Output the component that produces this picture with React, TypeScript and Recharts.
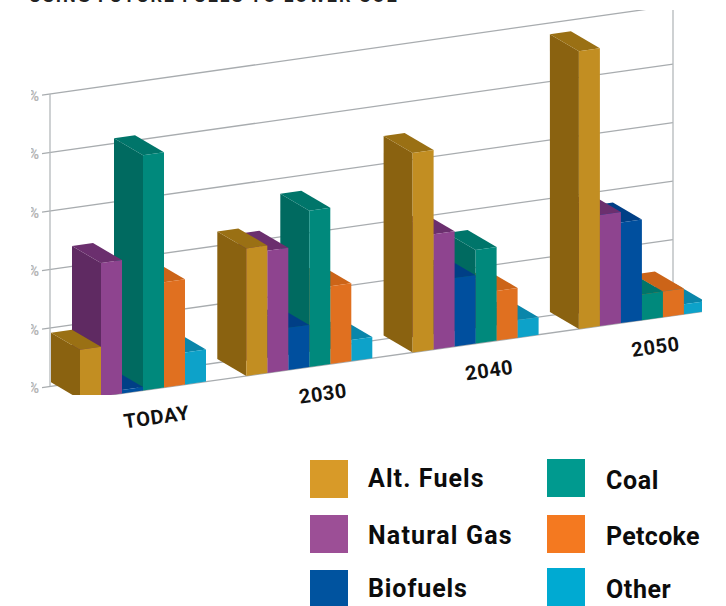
import { Bar, BarChart, CartesianGrid, XAxis, YAxis } from 'recharts'

const categories = ['TODAY', '2030', '2040', '2050']
const altFuels = [8.5, 21.8, 34.1, 47.5]
const naturalGas = [22.8, 20.9, 19.7, 19]
const biofuels = [0.6, 7.2, 11.7, 17.2]
const coal = [40.2, 26.7, 16, 4.4]
const petcoke = [18, 13.3, 8.5, 4.4]
const other = [5.5, 3.6, 3, 1.7]
const yTicks = [0, 10, 20, 30, 40, 50]

const rows = categories.map((name, i) => ({
  name,
  altFuels: altFuels[i],
  naturalGas: naturalGas[i],
  biofuels: biofuels[i],
  coal: coal[i],
  petcoke: petcoke[i],
  other: other[i],
}))

// front / side / top colours, left to right within a group
const series = [
  { key: 'altFuels', label: 'Alt. Fuels', swatch: '#d89a28', front: '#c28e22', side: '#8a6210', top: '#9a7014' },
  { key: 'naturalGas', label: 'Natural Gas', swatch: '#9c4f96', front: '#8e448f', side: '#5f2a62', top: '#6b2f6e' },
  { key: 'biofuels', label: 'Biofuels', swatch: '#00539f', front: '#004f9e', side: '#004490', top: '#003f86' },
  { key: 'coal', label: 'Coal', swatch: '#009a8f', front: '#00897c', side: '#006a60', top: '#00756a' },
  { key: 'petcoke', label: 'Petcoke', swatch: '#f47920', front: '#e07020', side: '#c45f18', top: '#cc6418' },
  { key: 'other', label: 'Other', swatch: '#00aad2', front: '#0da2c9', side: '#0a7fa2', top: '#0a86aa' },
]

const SLOPE = 0.141
const DEPTH_X = 29
const DEPTH_Y = 17
const WALL_LEFT = 50
const WALL_RIGHT = 673
const shear = (x: number, y: number) => y - SLOPE * (x - 79)
const wallY = (x: number, y: number) => y - 0.142 * (x - WALL_LEFT) - 13

const pts = (list: number[][]) => list.map((p) => p.join(',')).join(' ')

// bars are painted right to left so the nearer ones cover the sides behind them
const makeBar = (s: (typeof series)[number], index: number) => (props: any) => {
  const w = props.width
  const x = props.x + (index - (series.length - 1 - index)) * w
  const top = props.y
  const bottom = props.y + props.height
  const fl = [x, shear(x, top)]
  const fr = [x + w, shear(x + w, top)]
  const flb = [x, shear(x, bottom)]
  const frb = [x + w, shear(x + w, bottom)]
  const back = (p: number[]) => [p[0] - DEPTH_X, p[1] - DEPTH_Y]
  return (
    <g clipPath='url(#frame)'>
      <polygon points={pts([back(fl), fl, flb, back(flb)])} fill={s.side} />
      <polygon points={pts([back(fl), back(fr), fr, fl])} fill={s.top} />
      <polygon points={pts([fl, fr, frb, flb])} fill={s.front} />
    </g>
  )
}

function GridLine(props: any) {
  const { y1 } = props
  return (
    <line
      key={`grid-${y1}`}
      x1={42}
      y1={wallY(42, y1)}
      x2={WALL_RIGHT}
      y2={wallY(WALL_RIGHT, y1)}
      stroke='#a8acaf'
      strokeWidth={1.3}
      clipPath='url(#frame)'
    />
  )
}

function YTick({ y, payload }: any) {
  return (
    <text
      x={39}
      y={wallY(39, y) + 5}
      textAnchor='end'
      fontSize={14}
      fontWeight={700}
      fontFamily='Roboto'
      fill='#b5b5b5'
      clipPath='url(#frame)'
    >
      {payload.value}%
    </text>
  )
}

function XTick({ x, y, payload }: any) {
  const cx = x + 16
  const cy = shear(cx, y) + 27.5
  return (
    <text
      x={cx}
      y={cy}
      textAnchor='middle'
      fontSize={20}
      fontWeight={700}
      letterSpacing={0.6}
      fontFamily='Roboto'
      fill='#111'
      transform={`rotate(-8 ${cx} ${cy})`}
    >
      {payload.value}
    </text>
  )
}

const legendPlace = [
  { left: 310, top: 460, textTop: 3, spacing: 1.1 },
  { left: 310, top: 515, textTop: 5, spacing: 1.2 },
  { left: 310, top: 570, textTop: 3, spacing: 0.9 },
  { left: 547, top: 459, textTop: 6, spacing: 0.6 },
  { left: 547, top: 515, textTop: 6, spacing: 0.3 },
  { left: 547, top: 568, textTop: 6, spacing: 0.6 },
]

export default function App() {
  return (
    <div style={{ position: 'absolute', left: 0, top: 0, width: 726, height: 606, overflow: 'hidden', background: '#fff' }}>
      <svg width={0} height={0} style={{ position: 'absolute' }}>
        <defs>
          <clipPath id='frame'>
            <rect x={31} y={10} width={671} height={385} />
          </clipPath>
        </defs>
      </svg>
      <div
        style={{
          position: 'absolute',
          left: 29,
          top: -15,
          fontFamily: 'Roboto',
          fontWeight: 700,
          fontSize: 18,
          lineHeight: '21px',
          letterSpacing: 1.9,
          whiteSpace: 'nowrap',
          color: '#222',
        }}
      >
        USING FUTURE FUELS TO LOWER CO2
      </div>
      <BarChart
        width={726}
        height={606}
        data={rows}
        margin={{ top: 107, right: 2.4, bottom: 176.5, left: 38.4 }}
        barCategoryGap={21.6}
        barGap={0}
      >
        <CartesianGrid horizontal={GridLine} vertical={false} />
        <line x1={WALL_LEFT} y1={94} x2={WALL_LEFT} y2={386} stroke='#b4b8bb' strokeWidth={1.3} />
        <line x1={WALL_RIGHT} y1={10} x2={WALL_RIGHT} y2={298} stroke='#b4b8bb' strokeWidth={1.3} />
        <line x1={79} y1={shear(79, 399.5)} x2={702} y2={shear(702, 399.5)} stroke='#a8acaf' strokeWidth={1.3} clipPath='url(#frame)' />
        <XAxis dataKey='name' height={30} axisLine={false} tickLine={false} tick={XTick} interval={0} />
        <YAxis width={20} domain={[0, 50]} ticks={yTicks} axisLine={false} tickLine={false} tick={YTick} />
        {[...series].reverse().map((s) => (
          <Bar
            key={s.key}
            dataKey={s.key}
            isAnimationActive={false}
            fill={s.front}
            shape={makeBar(s, series.indexOf(s))}
          />
        ))}
      </BarChart>
      {series.map((s, i) => (
        <div key={s.key}>
          <div
            style={{
              position: 'absolute',
              left: legendPlace[i].left,
              top: legendPlace[i].top,
              width: 38,
              height: 38,
              background: s.swatch,
            }}
          />
          <div
            style={{
              position: 'absolute',
              left: legendPlace[i].left + (i < 3 ? 58 : 59),
              top: legendPlace[i].top + legendPlace[i].textTop,
              fontFamily: 'Roboto',
              fontWeight: 700,
              fontSize: 25,
              lineHeight: '32px',
              letterSpacing: legendPlace[i].spacing,
              whiteSpace: 'nowrap',
              color: '#0c0c0c',
            }}
          >
            {s.label}
          </div>
        </div>
      ))}
    </div>
  )
}
